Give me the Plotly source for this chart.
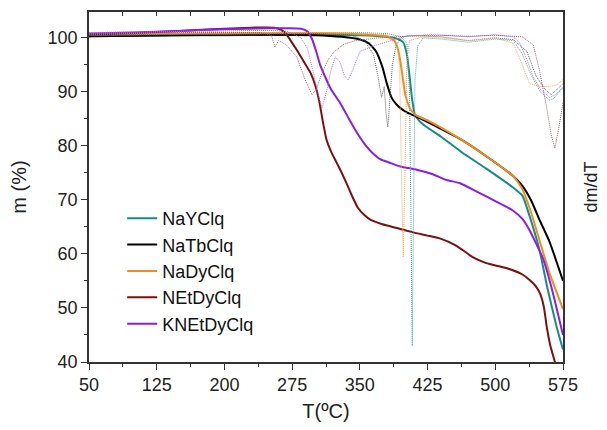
import plotly.graph_objects as go

# ---- TGA curves (mass %, left axis) ----
names = ["NaYClq", "NaTbClq", "NaDyClq", "NEtDyClq", "KNEtDyClq"]
colors = ["#178b8b", "#000000", "#f28c1c", "#7a1010", "#8a1ee8"]
dtg_colors = ["#4aa8a8", "#606060", "#f0aa55", "#a86060", "#b070dd"]

T_naY = [50, 100, 150, 200, 250, 300, 350, 380, 392, 398, 402, 405, 408, 411, 416, 424, 440, 464, 490, 519, 530, 538, 549, 558, 568, 575]
m_naY = [100.3, 100.4, 100.5, 100.5, 100.6, 100.6, 100.5, 100.2, 99.8, 99.2, 97, 93, 88.5, 85.8, 84.6, 83.5, 81.7, 78.7, 75.8, 72.4, 70.8, 67, 60.7, 53.5, 46.5, 42.3]

T_naTb = [50, 100, 150, 200, 250, 300, 330, 350, 360, 368, 375, 380, 385, 390, 395, 402, 413, 430, 461, 490, 520, 530, 540, 549, 560, 575]
m_naTb = [100.3, 100.4, 100.5, 100.6, 100.6, 100.5, 100.2, 99.7, 99, 97.5, 94.6, 91.5, 89, 87.8, 87.0, 86.2, 85.4, 84, 81.3, 78.1, 74.4, 72.6, 69.8, 66.3, 62.3, 55]

T_naDy = [50, 100, 150, 200, 250, 300, 350, 380, 388, 392, 395, 398, 400, 403, 406, 412, 424, 440, 461, 490, 520, 530, 540, 549, 560, 575]
m_naDy = [100.6, 100.7, 100.8, 100.8, 100.9, 100.9, 100.7, 100.3, 99.5, 98, 95.5, 92, 89.8, 88, 86.8, 85.7, 84.8, 83.4, 81.3, 78.1, 74.4, 72, 67.5, 62.5, 56.5, 49.8]

T_nEt = [50, 100, 150, 200, 230, 255, 262, 268, 273, 280, 289, 296, 301, 305, 309, 313, 318, 324, 330, 336, 342, 348, 355, 362, 375, 391, 409, 425, 440, 455, 465, 475, 490, 512, 530, 538, 545, 550, 554, 557, 561, 566, 570]
m_nEt = [100.6, 100.9, 101.3, 101.7, 101.9, 101.9, 101.6, 100.8, 99.6, 97.8, 95.3, 93.3, 91, 88.3, 84.5, 81.2, 79, 77, 75, 72.8, 70.5, 68.5, 67.2, 66.3, 65.5, 64.8, 64.0, 63.4, 62.8, 61.7, 60.6, 59.4, 58.3, 57.4, 56.2, 55.2, 54, 52.5, 50, 46.5, 43, 40, 37]

T_knEt = [50, 100, 150, 200, 250, 270, 285, 292, 297, 302, 306, 311, 318, 328, 338, 347, 356, 364, 373, 383, 395, 413, 430, 446, 461, 480, 500, 519, 530, 538, 545, 552, 557, 565, 575]
m_knEt = [100.8, 101.0, 101.3, 101.6, 101.8, 101.8, 101.7, 101.2, 99.8, 97.3, 95, 93, 90.5, 88, 85, 82.4, 80.2, 78.7, 77.5, 76.9, 76.2, 75.6, 74.8, 73.7, 73.1, 71.5, 69.8, 68.1, 66.5, 64.4, 62, 59.5, 57, 52, 45]

# ---- DTG curves (dm/dT, right axis, arbitrary units) ----
Td_naY = [50, 150, 250, 300, 350, 380, 395, 402, 405, 407, 408, 409, 411, 414, 420, 440, 470, 500, 520, 530, 540, 550, 560, 565, 575]
d_naY = [100.6, 100.7, 100.8, 100.9, 101, 100.8, 100.3, 99, 90, 60, 43, 60, 92, 98.5, 100, 99.8, 99.2, 99.8, 99.5, 97, 93, 90, 88.5, 88.8, 90.8]

Td_naTb = [50, 150, 250, 300, 340, 355, 365, 370, 374, 377, 379, 381, 383, 386, 390, 395, 405, 440, 470, 500, 520, 535, 545, 555, 562, 575]
d_naTb = [100.5, 100.6, 100.8, 100.8, 100.6, 99.5, 97, 93, 89, 91, 86, 83.5, 88, 95, 98.5, 100, 100.5, 100.2, 99.5, 100, 99.7, 97.5, 93, 90.5, 89.5, 91.5]

Td_naDy = [50, 150, 250, 300, 350, 380, 390, 394, 396, 398, 400, 402, 405, 420, 440, 470, 500, 520, 530, 538, 550, 560, 568, 575]
d_naDy = [100.8, 100.9, 101, 101, 100.9, 100.6, 99.5, 95, 75, 59.4, 75, 96, 99.5, 100.2, 100, 99.5, 100, 99, 95, 91.5, 91, 91, 91.3, 92.3]

Td_nEt = [50, 150, 240, 252, 256, 260, 268, 280, 290, 297, 302, 308, 315, 322, 332, 345, 370, 400, 440, 470, 500, 530, 542, 549, 557, 562, 566, 570, 575]
d_nEt = [100.8, 101, 101, 100.5, 98.3, 99.5, 98.8, 96.5, 92, 89.5, 90.5, 93.5, 96, 97.5, 98.8, 99.5, 100, 100.3, 100.5, 100.3, 100.5, 100.2, 98.7, 94, 87, 82, 79.6, 83, 88]

Td_knEt = [50, 150, 250, 270, 285, 292, 298, 303, 308, 313, 318, 323, 328, 333, 337, 342, 350, 365, 380, 400, 430, 470, 500, 520, 527, 535, 542, 550, 560, 567, 575]
d_knEt = [101, 101.2, 101.4, 101.2, 100, 98, 94, 90, 87, 90, 94, 96.5, 95.5, 93, 92.2, 94, 97.5, 98.5, 99.3, 100.3, 100.6, 100.2, 100.6, 100.2, 99.1, 96, 92.8, 90.5, 89, 89.5, 91]

x_ticks = [50, 125, 200, 275, 350, 425, 500, 575]
y_ticks = [40, 50, 60, 70, 80, 90, 100]

tga = [(T_naY, m_naY), (T_naTb, m_naTb), (T_naDy, m_naDy), (T_nEt, m_nEt), (T_knEt, m_knEt)]
dtg = [(Td_naY, d_naY), (Td_naTb, d_naTb), (Td_naDy, d_naDy), (Td_nEt, d_nEt), (Td_knEt, d_knEt)]

FONT = "Arial, Liberation Sans, sans-serif"

fig = go.Figure()
for (tx, dy), c in zip(dtg, dtg_colors):
    fig.add_trace(go.Scatter(x=tx, y=dy, mode="lines", xaxis="x2", yaxis="y2",
                             line=dict(color=c, width=1, dash="1px,1px"),
                             showlegend=False, hoverinfo="skip"))
for (tx, my), n, c in zip(tga, names, colors):
    fig.add_trace(go.Scatter(x=tx, y=my, mode="lines", name=n,
                             line=dict(color=c, width=2, shape="spline", smoothing=0.5)))

fig.update_layout(
    width=599, height=422,
    margin=dict(l=81, r=44, t=4, b=68),
    paper_bgcolor="white", plot_bgcolor="white",
    font=dict(family=FONT, size=18, color="#222"),
    showlegend=True,
    legend=dict(x=0.07, y=0.463, xanchor="left", yanchor="top",
                font=dict(size=18, color="#111"), bgcolor="rgba(0,0,0,0)",
                tracegroupgap=0),
    xaxis=dict(range=[50, 575], tickmode="array", tickvals=x_ticks, automargin=False,
               ticks="outside", ticklen=6, tickwidth=1.2, tickcolor="#333",
               minor=dict(dtick=37.5, tick0=50, ticks="outside", ticklen=3, tickcolor="#333"),
               showline=True, linecolor="#333", linewidth=1.5, mirror=False,
               showgrid=False, zeroline=False,
               tickfont=dict(size=18),
               title=dict(text="T(ºC)", font=dict(size=20), standoff=10)),
    xaxis2=dict(range=[50, 575], overlaying="x", side="top", matches="x", automargin=False,
                tickmode="linear", tick0=50, dtick=37.5,
                ticks="inside", ticklen=4, tickwidth=1.2, tickcolor="#333",
                showticklabels=False, showline=True, linecolor="#333", linewidth=1.5,
                showgrid=False, zeroline=False),
    yaxis=dict(range=[40, 104.8], tickmode="array", tickvals=y_ticks, automargin=False,
               ticks="outside", ticklen=6, tickwidth=1.2, tickcolor="#333",
               minor=dict(dtick=5, tick0=40, ticks="outside", ticklen=3, tickcolor="#333"),
               showline=True, linecolor="#333", linewidth=1.5,
               showgrid=False, zeroline=False, tickfont=dict(size=18),
               title=dict(text="m (%)", font=dict(size=20), standoff=19)),
    yaxis2=dict(range=[40, 104.8], overlaying="y", side="right", automargin=False,
                showticklabels=False, ticks="", showline=True, linecolor="#333",
                linewidth=1.5, showgrid=False, zeroline=False,
                title=dict(text="dm/dT", font=dict(size=18), standoff=21)),
)

fig.write_html("out.html")
